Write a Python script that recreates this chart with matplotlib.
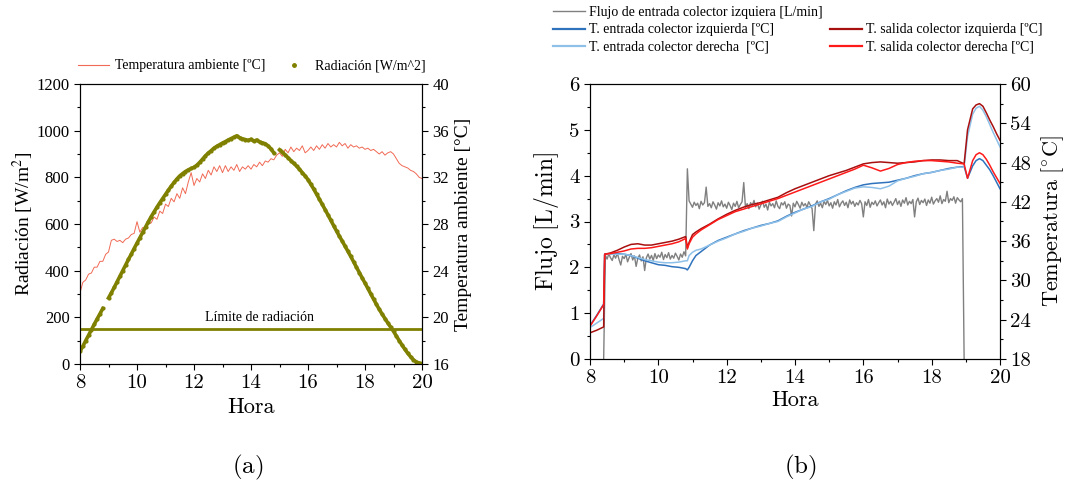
import matplotlib
matplotlib.use("Agg")
import matplotlib.pyplot as plt
from matplotlib.lines import Line2D
from matplotlib.ticker import MultipleLocator
import numpy as np

plt.rcParams["font.family"] = ["Liberation Serif", "DejaVu Serif"]
plt.rcParams["mathtext.fontset"] = "cm"

# ---------------- (a) radiación y temperatura ambiente ----------------
hora = np.round(np.arange(8.0, 20.001, 0.1), 2)

temp_ambiente = [
    22.1, 23.0, 23.2, 23.7, 23.8, 24.3, 24.3, 24.8, 24.8, 25.4,   # 8.0-8.9
    25.6, 26.6, 26.7, 26.5, 26.6, 26.4, 26.7, 26.8, 27.1, 27.2,   # 9.0-9.9
    28.2, 27.3, 27.7, 27.6, 28.0, 28.1, 28.6, 28.4, 29.1, 28.9,   # 10.0-10.9
    29.7, 29.5, 30.2, 29.9, 30.6, 30.2, 31.1, 30.6, 31.6, 32.4,   # 11.0-11.9
    31.3, 31.9, 31.6, 32.3, 31.9, 32.6, 32.2, 32.9, 32.5, 33.0,   # 12.0-12.9
    32.4, 33.0, 32.5, 32.9, 32.6, 33.1, 32.5, 32.9, 32.7, 33.0,   # 13.0-13.9
    32.7, 33.1, 32.9, 33.3, 33.0, 33.4, 33.3, 33.6, 33.5, 33.9,   # 14.0-14.9
    34.1, 33.8, 34.4, 34.1, 34.6, 34.2, 34.5, 34.3, 34.7, 34.1,   # 15.0-15.9
    34.3, 34.6, 34.3, 34.7, 34.4, 34.8, 34.5, 34.9, 34.6, 34.8,   # 16.0-16.9
    34.6, 35.0, 34.7, 34.9, 34.5, 34.8, 34.6, 34.7, 34.5, 34.6,   # 17.0-17.9
    34.4, 34.5, 34.3, 34.4, 34.2, 34.0, 34.2, 33.9, 34.1, 34.2,   # 18.0-18.9
    34.0, 33.6, 33.2, 33.0, 32.9, 32.8, 32.6, 32.5, 32.3, 32.0,   # 19.0-19.9
    31.9,
]

radiacion = [
    55, 76, 100, 123, 147, 170, 193, 215, 238, np.nan,            # 8.0-8.9
    283, 305, 328, 352, 376, 400, 424, 448, 471, 495,             # 9.0-9.9
    518, 541, 564, 587, 610, 632, 652, 672, 691, 709,             # 10.0-10.9
    727, 745, 762, 778, 793, 806, 816, 825, 832, 838,             # 11.0-11.9
    843, 852, 864, 878, 892, 904, 914, 925, 933, 940,             # 12.0-12.9
    947, 953, 960, 966, 972, 978, 970, 965, 962, 958,             # 13.0-13.9
    963, 955, 960, 952, 948, 944, 935, 922, 905, np.nan,          # 14.0-14.9
    918, 908, 896, 884, 872, 860, 848, 835, 820, 806,             # 15.0-15.9
    790, 770, 750, 728, 706, 684, 662, 639, 616, 593,             # 16.0-16.9
    570, 548, 527, 505, 483, 461, 438, 415, 392, 369,             # 17.0-17.9
    347, 324, 301, 278, 256, 234, 214, 195, 176, 158,             # 18.0-18.9
    140, 120, 100, 81, 63, 46, 31, 18, 9, 4,                      # 19.0-19.9
    2,
]

limite_radiacion = 150

# ---------------- (b) flujo y temperaturas de colectores ----------------
hora_flujo = np.round(np.arange(8.0, 20.001, 0.05), 2)

# fuera del ensayo el caudal es nulo y queda oculto bajo el eje
flujo = (
    [np.nan] * 8 + [0.0]                                             # 8.00-8.40
    + [2.26, 2.18, 2.29, 2.21, 2.15, 2.27, 2.20, 2.31, 2.17, 2.05,   # 8.45-
       2.24, 2.19, 2.28, 2.12, 2.22, 2.30, 2.16, 2.25, 2.02, 2.20,
       2.27, 2.14, 2.23, 1.93, 2.21, 2.29, 2.18, 2.26, 2.15, 2.30,
       2.19, 2.27, 2.22, 2.33, 2.17, 2.28, 2.21, 2.32, 2.18, 2.26,
       2.20, 2.31, 2.24, 2.16, 2.29, 2.22, 2.34, 2.25]               # -10.80
    + [4.15]                                                         # 10.85
    + [3.45, 3.38, 3.31, 3.42, 3.35, 3.40, 3.28, 3.44, 3.36, 3.41,   # 10.90-
       3.75, 3.33, 3.39, 3.30, 3.43, 3.36, 3.27, 3.41, 3.34, 3.45,
       3.32, 3.38, 3.29, 3.42, 3.35, 3.26, 3.40, 3.33, 3.44, 3.30,
       3.37, 3.43, 3.85, 3.31, 3.39, 3.28, 3.41, 3.35, 3.46, 3.32,
       3.40, 3.27, 3.36, 3.44, 3.31, 3.38, 3.25, 3.42, 3.34, 3.39,
       3.30, 3.45, 3.33, 3.28, 3.41, 3.36, 3.43, 3.29, 3.38, 3.35,
       3.12, 3.40, 3.32, 3.44, 3.37, 3.29, 3.42, 3.34, 3.39, 3.31,
       3.43, 3.36, 3.28, 2.80, 3.38, 3.45, 3.33, 3.40, 3.30, 3.44,
       3.37, 3.46, 3.34, 3.41, 3.29, 3.43, 3.36, 3.48, 3.32, 3.40,
       3.45, 3.35, 3.42, 3.30, 3.47, 3.38, 3.44, 3.33, 3.41, 3.36,
       3.46, 3.39, 3.10, 3.43, 3.35, 3.48, 3.31, 3.42, 3.37, 3.45,
       3.34, 3.41, 3.47, 3.36, 3.43, 3.30, 3.49, 3.38, 3.44, 3.35,
       3.42, 3.50, 3.37, 3.45, 3.33, 3.47, 3.40, 3.52, 3.36, 3.44,
       3.39, 3.48, 3.10, 3.43, 3.51, 3.37, 3.46, 3.41, 3.49, 3.35,
       3.47, 3.40, 3.53, 3.38, 3.45, 3.50, 3.42, 3.56, 3.39, 3.48,
       3.44, 3.66, 3.41, 3.50, 3.46, 3.54, 3.40, 3.52, 3.47, 3.43,
       3.50]                                                         # -18.90
    + [0.0] + [np.nan] * 21                                          # 18.95-20.00
)

hora_t = [8.0, 8.2, 8.4, 8.43, 8.6, 8.8, 9.0, 9.2, 9.4, 9.6, 9.8, 10.0, 10.2,
          10.4, 10.6, 10.8, 10.85, 10.9, 11.0, 11.1, 11.25, 11.5, 11.75, 12.0,
          12.25, 12.5, 12.75, 13.0, 13.25, 13.5, 13.75, 14.0, 14.25, 14.5,
          14.75, 15.0, 15.25, 15.5, 15.75, 16.0, 16.25, 16.5, 16.75, 17.0,
          17.25, 17.5, 17.75, 18.0, 18.25, 18.5, 18.75, 18.95, 19.05, 19.2,
          19.3, 19.4, 19.5, 19.6, 19.7, 19.8, 19.9, 20.0]

t_entrada_izq = [23.1, 24.7, 26.4, 34.0, 34.0, 34.1, 34.0, 33.8, 33.4, 33.0,
                 32.7, 32.4, 32.3, 32.1, 32.0, 31.8, 31.6, 32.0, 33.0, 33.8,
                 34.4, 35.4, 36.1, 36.6, 37.1, 37.6, 38.0, 38.4, 38.7, 39.1,
                 39.8, 40.4, 40.9, 41.4, 42.0, 42.5, 43.1, 43.7, 44.2, 44.6,
                 44.8, 44.9, 45.0, 45.3, 45.6, 46.0, 46.3, 46.5, 46.8, 47.1,
                 47.3, 47.4, 45.6, 47.5, 48.3, 48.6, 48.3, 47.6, 46.9, 46.0,
                 45.0, 44.0]

t_salida_izq = [22.0, 22.4, 22.9, 34.0, 34.2, 34.6, 35.1, 35.5, 35.6, 35.4,
                35.4, 35.6, 35.8, 36.0, 36.3, 36.7, 35.0, 35.8, 37.0, 37.4,
                37.9, 38.6, 39.4, 40.1, 40.7, 41.2, 41.6, 41.9, 42.3, 42.7,
                43.4, 44.0, 44.5, 45.0, 45.5, 46.0, 46.4, 46.8, 47.3, 47.8,
                48.0, 48.1, 48.0, 47.9, 48.0, 48.1, 48.3, 48.4, 48.4, 48.3,
                48.3, 47.8, 53.0, 56.2, 56.8, 57.0, 56.6, 55.6, 54.5, 53.5,
                52.4, 51.4]

t_entrada_der = [22.8, 23.5, 24.2, 34.0, 34.0, 34.0, 34.0, 33.8, 33.5, 33.2,
                 33.0, 32.8, 32.7, 32.7, 32.8, 33.0, 33.0, 33.8, 34.3, 34.6,
                 34.8, 35.4, 36.0, 36.5, 37.1, 37.5, 38.0, 38.3, 38.7, 39.0,
                 39.7, 40.3, 40.9, 41.3, 42.0, 42.4, 43.1, 43.6, 44.1, 44.3,
                 44.2, 44.0, 44.4, 45.2, 45.6, 45.9, 46.3, 46.5, 46.8, 47.0,
                 47.3, 47.3, 52.0, 55.4, 56.3, 56.6, 56.0, 55.0, 53.8, 52.6,
                 51.5, 50.4]

t_salida_der = [23.0, 24.6, 26.3, 34.0, 34.1, 34.3, 34.5, 34.8, 34.9, 34.9,
                35.0, 35.2, 35.4, 35.6, 35.9, 36.4, 34.8, 35.6, 36.6, 37.1,
                37.7, 38.5, 39.3, 39.9, 40.5, 40.9, 41.3, 41.7, 42.1, 42.5,
                43.0, 43.5, 44.0, 44.5, 45.0, 45.5, 46.0, 46.5, 47.0, 47.6,
                47.2, 46.7, 47.1, 47.7, 48.0, 48.2, 48.3, 48.3, 48.2, 48.1,
                47.9, 47.8, 45.6, 48.3, 49.2, 49.5, 49.2, 48.5, 47.6, 46.6,
                45.7, 44.8]

# colores
ROJO_AMB = "#f06a55"
OLIVA = "#808000"
GRIS = "#808080"
AZUL = "#2f73bd"
AZUL_CLARO = "#8ec0e8"
ROJO_OSCURO = "#a80f0f"
ROJO = "#ff1a1a"

fig = plt.figure(figsize=(10.71, 4.92), dpi=100)


def estilo_ticks(ax, size, family=None):
    ax.tick_params(which="major", direction="out", length=4, width=0.8,
                   labelsize=size)
    ax.tick_params(which="minor", direction="out", length=2.5, width=0.8)
    if family:
        ax.tick_params(labelfontfamily=family)


# ---------------- panel (a) ----------------
ax1 = fig.add_axes([80 / 1071, 1 - 364 / 492, 342 / 1071, 280 / 492])
ax1b = ax1.twinx()
ax1.set_zorder(ax1b.get_zorder() + 1)
ax1.patch.set_visible(False)

ax1b.plot(hora, temp_ambiente, color=ROJO_AMB, lw=0.7)
ax1.plot(hora, radiacion, color=OLIVA, lw=2.6, marker="o", ms=2.0)
ax1.axhline(limite_radiacion, color=OLIVA, lw=2.0)
ax1.text(14.3, 198, "Límite de radiación", ha="center", va="center", fontsize=10)

ax1.set_xlim(8, 20)
ax1.set_ylim(0, 1200)
ax1b.set_ylim(16, 40)
ax1.xaxis.set_major_locator(MultipleLocator(2))
ax1.xaxis.set_minor_locator(MultipleLocator(1))
ax1.yaxis.set_major_locator(MultipleLocator(200))
ax1.yaxis.set_minor_locator(MultipleLocator(100))
ax1b.yaxis.set_major_locator(MultipleLocator(4))
ax1b.yaxis.set_minor_locator(MultipleLocator(2))
estilo_ticks(ax1, 12)
estilo_ticks(ax1b, 12)
ax1.tick_params(axis="x", labelsize=15, labelfontfamily="cmr10")

ax1.set_xlabel("Hora", fontsize=16, family="cmr10", labelpad=4)
ax1.set_ylabel("Radiación [W/m$^2$]", fontsize=14, math_fontfamily="stix",
               labelpad=0)
ax1b.set_ylabel("Temperatura ambiente [°C]", fontsize=14, labelpad=4)

leg_a = [Line2D([], [], color=ROJO_AMB, lw=0.8),
         Line2D([], [], color=OLIVA, marker=".", ls="none", ms=5)]
fig.legend(leg_a, ["Temperatura ambiente [ºC]", "Radiación [W/m^2]"],
           loc="center", bbox_to_anchor=(252 / 1071, 1 - 66 / 492), ncol=2,
           frameon=False, fontsize=10, handlelength=2.2, handletextpad=0.4,
           columnspacing=1.0)

fig.text(248 / 1071, 1 - 467 / 492, r"$\mathrm{(a)}$", ha="center",
         va="center", fontsize=18)

# ---------------- panel (b) ----------------
ax2 = fig.add_axes([590 / 1071, 1 - 359 / 492, 410 / 1071, 275 / 492])
ax2b = ax2.twinx()

ax2.plot(hora_flujo, flujo, color=GRIS, lw=1.0)
ax2b.plot(hora_t, t_entrada_izq, color=AZUL, lw=1.1)
ax2b.plot(hora_t, t_entrada_der, color=AZUL_CLARO, lw=1.1)
ax2b.plot(hora_t, t_salida_izq, color=ROJO_OSCURO, lw=1.1)
ax2b.plot(hora_t, t_salida_der, color=ROJO, lw=1.1)

ax2.set_xlim(8, 20)
ax2.set_ylim(0, 6)
ax2b.set_ylim(18, 60)
ax2.xaxis.set_major_locator(MultipleLocator(2))
ax2.xaxis.set_minor_locator(MultipleLocator(1))
ax2.yaxis.set_major_locator(MultipleLocator(1))
ax2.yaxis.set_minor_locator(MultipleLocator(0.5))
ax2b.yaxis.set_major_locator(MultipleLocator(6))
ax2b.yaxis.set_minor_locator(MultipleLocator(3))
estilo_ticks(ax2, 15, "cmr10")
estilo_ticks(ax2b, 15, "cmr10")

ax2.set_xlabel("Hora", fontsize=16, family="cmr10", labelpad=2)
ax2.set_ylabel(r"$\mathrm{Flujo\ [L/min]}$", fontsize=17, labelpad=6)
ax2b.set_ylabel(r"$\mathrm{Temperatura\ [^{\circ}C]}$", fontsize=16,
                labelpad=6)

leg_b = [Line2D([], [], color=GRIS, lw=1.0),
         Line2D([], [], color=AZUL, lw=1.6),
         Line2D([], [], color=AZUL_CLARO, lw=1.6),
         Line2D([], [], color="none"),
         Line2D([], [], color=ROJO_OSCURO, lw=1.6),
         Line2D([], [], color=ROJO, lw=1.6)]
etiquetas_b = ["Flujo de entrada colector izquiera [L/min]",
               "T. entrada colector izquierda [ºC]",
               "T. entrada colector derecha  [ºC]",
               "",
               "T. salida colector izquierda [ºC]",
               "T. salida colector derecha [ºC]"]
fig.legend(leg_b, etiquetas_b, loc="center",
           bbox_to_anchor=(798 / 1071, 1 - 30 / 492), ncol=2, frameon=False,
           fontsize=10, handlelength=2.3, handletextpad=0.3,
           columnspacing=0.5, labelspacing=0.32)

fig.text(800 / 1071, 1 - 467 / 492, r"$\mathrm{(b)}$", ha="center",
         va="center", fontsize=18)

fig.savefig("out.png", dpi=100)
